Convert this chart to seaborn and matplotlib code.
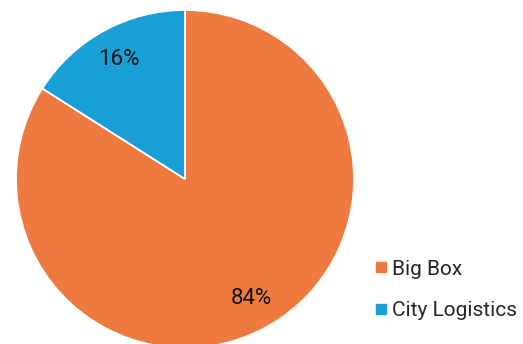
import matplotlib
matplotlib.use("Agg")
import matplotlib.pyplot as plt
from matplotlib.lines import Line2D
import numpy as np
import seaborn as sns

categories = ["Big Box", "City Logistics"]
values = [84, 16]
pct_labels = ["84%", "16%"]
colors = ["#EE7A40", "#189FD5"]

sns.set_theme(style="white")
plt.rcParams['font.family'] = ['Roboto', 'DejaVu Sans']

fig = plt.figure(figsize=(5.23, 3.44), dpi=100)
fig.patch.set_facecolor("white")
ax = fig.add_axes([16/523, -4/344, 338/523, 338/344])
wedges, _ = ax.pie(values, colors=colors, startangle=90, counterclock=False,
                   radius=1, wedgeprops=dict(edgecolor="white", linewidth=1.3))
for w, lab in zip(wedges, pct_labels):
    ang = np.deg2rad((w.theta1 + w.theta2) / 2)
    ax.text(0.81*np.cos(ang), 0.81*np.sin(ang), lab, ha="center", va="center",
            fontsize=16, color="#111111")
ax.set_xlim(-1, 1)
ax.set_ylim(-1, 1)
ax.set_aspect("equal")
ax.axis("off")

handles = [Line2D([], [], marker="s", linestyle="none", markersize=7.3,
                  markerfacecolor=c, markeredgecolor=c) for c in colors]
fig.legend(handles, categories, loc="center left",
           bbox_to_anchor=(375/523, 1 - 290/344), frameon=False,
           fontsize=15, handlelength=0.6, handletextpad=0.22,
           labelspacing=1.1, borderaxespad=0, borderpad=0)

fig.savefig("out.png", dpi=100, facecolor="white")
